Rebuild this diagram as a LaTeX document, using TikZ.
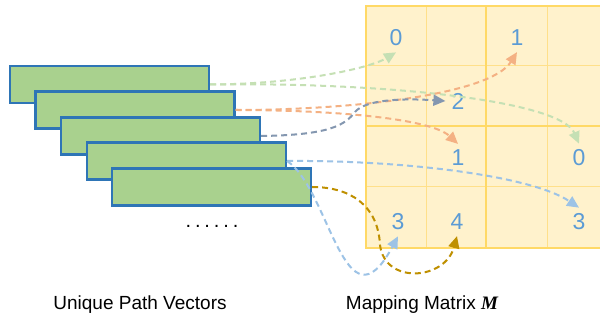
\documentclass[tikz,border=0pt]{standalone}
\usepackage{fontspec}
\setmainfont{Liberation Sans}
\newfontfamily\mathlikefont{Liberation Serif}
\usetikzlibrary{arrows.meta}
\definecolor{gridfill}{HTML}{FFF2CC}
\definecolor{gridline}{HTML}{FFD966}
\definecolor{gridthin}{HTML}{FFE08A}
\definecolor{vecfill}{HTML}{A9D18E}
\definecolor{vecdraw}{HTML}{2E75B6}
\definecolor{digit}{HTML}{5B9BD5}
\definecolor{cgreen}{HTML}{C5E0B4}
\definecolor{corange}{HTML}{F4B183}
\definecolor{cgray}{HTML}{8497B0}
\definecolor{cblue}{HTML}{9DC3E6}
\definecolor{cgold}{HTML}{BF9000}
\tikzset{
  vecbox/.style={draw=vecdraw, fill=vecfill, line width=2.2pt, minimum width=199pt, minimum height=37pt, inner sep=0pt},
  dig/.style={text=digit, font=\fontsize{23}{23}\selectfont, inner sep=6pt},
  conn/.style={dash pattern=on 6pt off 4pt, line width=2pt, -{Triangle[length=12pt,width=11pt]}},
  lbl/.style={font=\fontsize{19}{19}\selectfont, inner sep=0pt}
}
\begin{document}
\begin{tikzpicture}[x=1pt,y=-1pt]
\clip (0,0) rectangle (600,320);
\fill[white] (0,0) rectangle (600,320);
% grid
\fill[gridfill] (366,6) rectangle (620,248);
\foreach \x in {426,547} \draw[gridthin, line width=1pt] (\x,6) -- (\x,248);
\foreach \y in {66,187} \draw[gridthin, line width=1pt] (366,\y) -- (620,\y);
\draw[gridline, line width=2pt] (366,6) rectangle (607,248);
\draw[gridline, line width=2pt] (366,126) -- (607,126);
\draw[gridline, line width=2pt] (486,6) -- (486,248);
% digits
\node[dig] (d0a) at (396,38) {0};
\node[dig] (d1a) at (517,38) {1};
\node[dig] (d2) at (458,101) {2};
\node[dig] (d1b) at (458,158) {1};
\node[dig] (d0c) at (579,158) {0};
\node[dig] (d3a) at (398,222) {3};
\node[dig] (d4) at (457,222) {4};
\node[dig] (d3c) at (579,222) {3};
% vectors
\node[vecbox] (r1) at (109.5,84.5) {};
\node[vecbox] (r2) at (135,110) {};
\node[vecbox] (r3) at (160.5,136) {};
\node[vecbox] (r4) at (186.5,161) {};
\node[vecbox] (r5) at (211.5,187) {};
\node[lbl, font=\fontsize{20}{20}\selectfont] (dots) at (212,226) {.\kern3.9pt.\kern3.9pt.\kern3.9pt.\kern3.9pt.\kern3.9pt.};
% connectors
\draw[conn, cgreen] (r1.east) .. controls (300,84) and (370,68) .. (d0a.south);
\draw[conn, cgreen] (r1.east) .. controls (380,82) and (560,100) .. (d0c.north);
\draw[conn, corange] (r2.east) .. controls (350,110) and (490,95) .. (d1a.south);
\draw[conn, corange] (r2.east) .. controls (330,110) and (430,118) .. (d1b.north);
\draw[conn, cgray] (r3.east) .. controls (330,135) and (345,125) .. (355,112) .. controls (365,100) and (400,98) .. (d2.west);
\draw[conn, cblue] (r4.east) .. controls (400,160) and (530,175) .. (d3c.north);
\draw[conn, cblue] (r4.east) .. controls (330,190) and (345,335) .. (d3a.south);
\draw[conn, cgold] (r5.east) .. controls (350,187) and (378,205) .. (380,245) .. controls (385,285) and (445,280) .. (d4.south);
% labels
\node[lbl] (lv) at (140,305) {Unique Path Vectors};
\node[lbl] (lm) at (422,305) {Mapping Matrix {\mathlikefont\bfseries\itshape M}};
\end{tikzpicture}
\end{document}
